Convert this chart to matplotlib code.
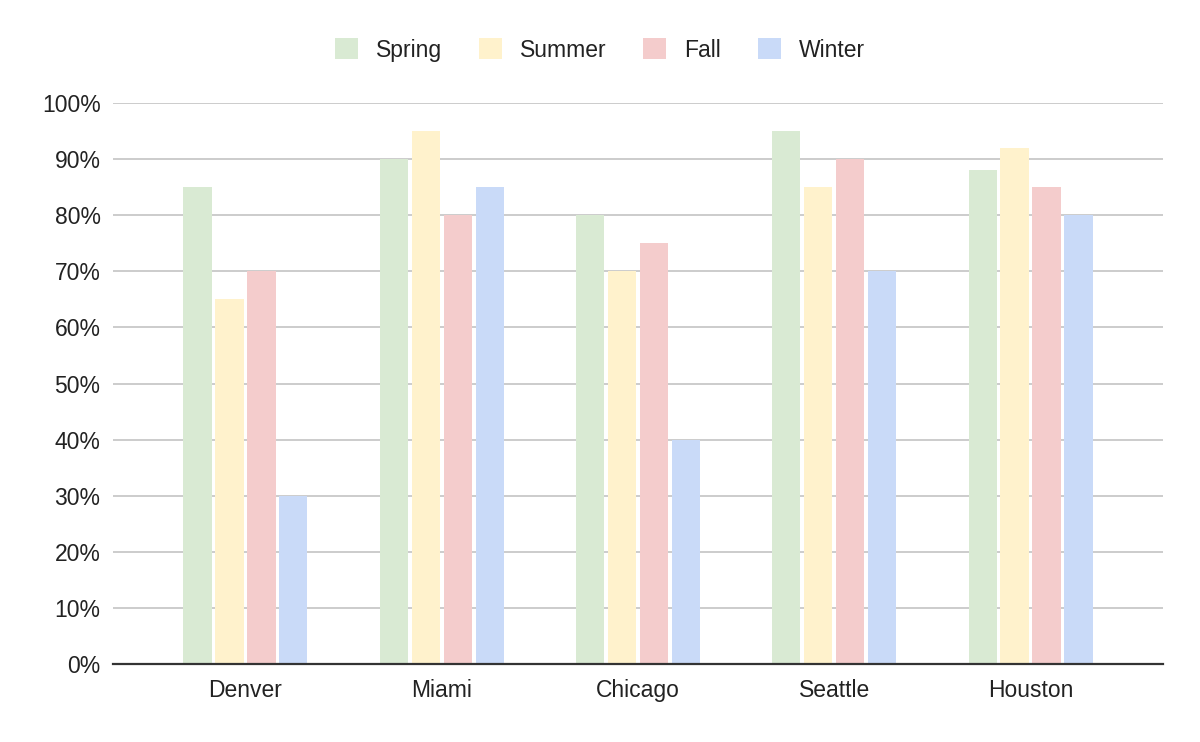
import matplotlib.pyplot as plt
import numpy as np
from matplotlib.patches import Patch

plt.rcParams["font.family"] = ["Liberation Sans", "DejaVu Sans"]

CITIES = ["Denver", "Miami", "Chicago", "Seattle", "Houston"]
SEASONS = ["Spring", "Summer", "Fall", "Winter"]
COLORS = ["#d9ead3", "#fff2cc", "#f4cccc", "#c9daf8"]

SPRING = [85, 90, 80, 95, 88]
SUMMER = [65, 95, 70, 85, 92]
FALL = [70, 80, 75, 90, 85]
WINTER = [30, 85, 40, 70, 80]


def main() -> None:
    fig = plt.figure(figsize=(12, 7.42), dpi=100)
    ax = fig.add_axes([113 / 1200, 1 - 664 / 742, 1050 / 1200, 561 / 742])

    x = np.arange(len(CITIES))
    step = 0.163
    width = 0.143
    series = [SPRING, SUMMER, FALL, WINTER]
    for i, (vals, color) in enumerate(zip(series, COLORS)):
        ax.bar(x + (i - 1.5) * step, vals, width=width, color=color, zorder=3)

    ax.set_xlim(-0.675, 4.675)
    ax.set_ylim(0, 100)
    ax.set_yticks(np.arange(0, 101, 10))
    ax.set_yticklabels([f"{v}%" for v in range(0, 101, 10)])
    ax.set_xticks(x)
    ax.set_xticklabels(CITIES)

    ax.grid(axis="y", color="#cccccc", linewidth=1.4, zorder=0)
    for side in ["top", "right", "left"]:
        ax.spines[side].set_visible(False)
    ax.spines["bottom"].set_color("#333333")
    ax.spines["bottom"].set_linewidth(1.6)
    ax.spines["bottom"].set_zorder(4)
    ax.tick_params(axis="both", length=0, labelsize=16.5, colors="#222222")
    ax.tick_params(axis="x", pad=11)
    ax.tick_params(axis="y", pad=9)

    handles = [Patch(facecolor=c, edgecolor="none") for c in COLORS]
    fig.legend(handles, SEASONS, loc="center", bbox_to_anchor=(0.5, 1 - 50 / 742),
               ncol=4, frameon=False, fontsize=16.5, handlelength=1.0, handleheight=1.0,
               columnspacing=1.6, handletextpad=0.8, labelcolor="#222222")

    fig.savefig("out.png", dpi=100)
    plt.close(fig)


if __name__ == "__main__":
    main()
